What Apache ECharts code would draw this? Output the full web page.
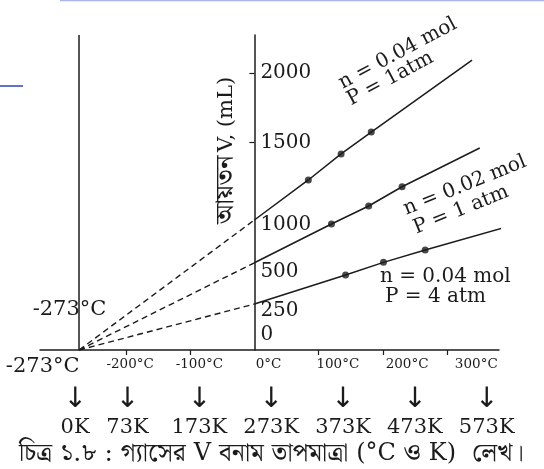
<!DOCTYPE html>
<html><head><meta charset="utf-8">
<script src="https://cdn.jsdelivr.net/npm/echarts@6/dist/echarts.min.js"></script>
<style>html,body{margin:0;padding:0;background:#fff}#c{width:544px;height:469px}</style>
</head><body><div id="c"></div>
<script>
// ---- data ----
const absZeroC = -273;
const celsiusTicks = [-200, -100, 100, 200, 300];
const celsiusLabels = [-273, -200, -100, 0, 100, 200, 300];
const kelvinLabels = [0, 73, 173, 273, 373, 473, 573];
const volumeLabels = [0, 250, 500, 1000, 1500, 2000];
const volumeTicks = [1500, 2000];
// n = 0.04 mol, P = 1 atm
const lineA_T = [0, 84, 135, 182, 339];
const lineA_V = [939, 1228, 1416, 1574, 2094];
// n = 0.02 mol, P = 1 atm
const lineB_T = [0, 120, 178, 230, 351];
const lineB_V = [630, 910, 1040, 1179, 1459];
// n = 0.04 mol, P = 4 atm
const lineC_T = [0, 142, 201, 266, 385];
const lineC_V = [332, 542, 633, 722, 879];
const measuredIdx = [1, 2, 3];
const lineNames = ['n = 0.04 mol, P = 1 atm', 'n = 0.02 mol, P = 1 atm', 'n = 0.04 mol, P = 4 atm'];

// ---- style ----
const INK = '#1b1b1b';
const SERIF = "'DejaVu Serif', 'Noto Serif Bengali', 'Noto Sans Bengali', 'Lohit Bengali', serif";
const yLabelNudge = {0: -15, 250: -5, 500: -9, 1000: 13};

const lines = [[lineA_T, lineA_V], [lineB_T, lineB_V], [lineC_T, lineC_V]];
const series = [];
lines.forEach(([T, V], i) => {
  const dashed = {
    type: 'line', name: lineNames[i], xAxisIndex: 0, yAxisIndex: 0,
    data: [[absZeroC, 0], [T[0], V[0]]], symbol: 'none', silent: true,
    lineStyle: {type: [6, 4], width: 1.4, color: INK}, z: 2
  };
  if (i === 0) {
    dashed.markLine = {
      silent: true, symbol: ['none', 'none'], label: {show: false},
      lineStyle: {type: 'solid', color: INK, width: 1.5},
      data: [{xAxis: absZeroC}]
    };
  }
  series.push(dashed);
  series.push({
    type: 'line', name: lineNames[i], xAxisIndex: 0, yAxisIndex: 0,
    data: T.map((t, j) => [t, V[j]]), symbol: 'none', showSymbol: false, clip: false,
    lineStyle: {width: 1.5, color: INK}, z: 3
  });
  series.push({
    type: 'scatter', name: lineNames[i], xAxisIndex: 0, yAxisIndex: 0,
    data: measuredIdx.map(j => [T[j], V[j]]), symbolSize: 7, clip: false,
    itemStyle: {color: INK}, z: 4
  });
});

const yRich = {};
volumeLabels.forEach(v => {
  const n = yLabelNudge[v] || 0;
  yRich['y' + v] = {
    fontSize: 20, fontFamily: SERIF, color: INK,
    padding: n >= 0 ? [2 * n, 0, 0, 0] : [0, 0, -2 * n, 0]
  };
});

const option = {
  backgroundColor: '#ffffff',
  animation: false,
  grid: {left: 40, right: 45, top: 35, bottom: 119},
  xAxis: [
    {
      type: 'value', min: -334, max: 381, position: 'bottom',
      axisLine: {show: true, onZero: false, lineStyle: {color: INK, width: 1.5}},
      axisTick: {show: true, customValues: celsiusTicks, length: 5, lineStyle: {color: INK, width: 1.2}},
      axisLabel: {show: false}, splitLine: {show: false}
    },
    {
      type: 'value', min: -330.2, max: 332.8, position: 'bottom',
      axisLine: {show: false, onZero: false}, axisTick: {show: false}, splitLine: {show: false},
      axisLabel: {
        customValues: celsiusLabels, margin: 6, hideOverlap: false,
        showMinLabel: true, showMaxLabel: true, alignMinLabel: 'right',
        formatter: v => (v === absZeroC ? '{big|' : '{sm|') + v + '°C}',
        rich: {
          big: {fontSize: 21, lineHeight: 22, fontFamily: SERIF, color: INK},
          sm: {fontSize: 13.5, lineHeight: 16, fontFamily: SERIF, color: INK}
        }
      }
    },
    {
      type: 'value', min: -48.9, max: 590.1, position: 'bottom',
      axisLine: {show: false, onZero: false}, axisTick: {show: false}, splitLine: {show: false},
      axisLabel: {
        customValues: kelvinLabels, margin: 36, hideOverlap: false,
        showMinLabel: true, showMaxLabel: true,
        formatter: v => '{a|↓}\n{k|' + v + 'K}',
        rich: {
          a: {fontSize: 28, lineHeight: 28, fontFamily: "'DejaVu Sans'", color: INK},
          k: {fontSize: 21, lineHeight: 28, fontFamily: SERIF, color: INK}
        }
      }
    }
  ],
  yAxis: {
    type: 'value', min: 0, max: 2275, position: 'left', offset: -214.4,
    axisLine: {show: true, onZero: false, lineStyle: {color: INK, width: 1.5}},
    axisTick: {show: true, customValues: volumeTicks, length: 5, lineStyle: {color: INK, width: 1.2}},
    axisLabel: {
      inside: true, margin: 6, customValues: volumeLabels, hideOverlap: false,
      showMinLabel: true, showMaxLabel: true,
      formatter: v => '{y' + v + '|' + v + '}', rich: yRich
    },
    splitLine: {show: false}
  },
  series: series,
  graphic: [
    {type: 'line', shape: {x1: 0, y1: 86, x2: 23, y2: 86}, style: {stroke: '#5f72d2', lineWidth: 2}},
    {type: 'line', shape: {x1: 60, y1: 0.6, x2: 544, y2: 0.6}, style: {stroke: '#aab4e6', lineWidth: 1.5}},
    {type: 'text', x: 340, y: 84.3, rotation: 0.4887, style: {text: 'n = 0.04 mol', fontSize: 20, fontFamily: SERIF, fill: INK, align: 'left', verticalAlign: 'middle'}},
    {type: 'text', x: 348.6, y: 101, rotation: 0.4887, style: {text: 'P = 1atm', fontSize: 20, fontFamily: SERIF, fill: INK, align: 'left', verticalAlign: 'middle'}},
    {type: 'text', x: 404.3, y: 210, rotation: 0.384, style: {text: 'n = 0.02 mol', fontSize: 20, fontFamily: SERIF, fill: INK, align: 'left', verticalAlign: 'middle'}},
    {type: 'text', x: 414.3, y: 229, rotation: 0.384, style: {text: 'P = 1 atm', fontSize: 20, fontFamily: SERIF, fill: INK, align: 'left', verticalAlign: 'middle'}},
    {type: 'text', x: 380, y: 277, style: {text: 'n = 0.04 mol', fontSize: 20, fontFamily: SERIF, fill: INK, align: 'left', verticalAlign: 'middle'}},
    {type: 'text', x: 385, y: 296.5, style: {text: 'P = 4 atm', fontSize: 20, fontFamily: SERIF, fill: INK, align: 'left', verticalAlign: 'middle'}},
    {type: 'text', x: 69.5, y: 309.5, style: {text: '-273°C', fontSize: 21, fontFamily: SERIF, fill: INK, align: 'center', verticalAlign: 'middle'}},
    {type: 'text', x: 226.5, y: 150.5, rotation: Math.PI / 2, style: {
      text: '{b|আয়তন} {l|V, (mL)}', fill: INK, align: 'center', verticalAlign: 'middle',
      rich: {b: {fontSize: 26, fontFamily: SERIF, fill: INK}, l: {fontSize: 21, fontFamily: SERIF, fill: INK}}
    }},
    {type: 'text', x: 271.5, y: 454, style: {
      text: '{b|চিত্র ১.৮ : গ্যাসের }{l|V}{b| বনাম তাপমাত্রা }{l|(°C}{b| ও }{l|K)}{b|  লেখ।}',
      fill: INK, align: 'center', verticalAlign: 'middle',
      rich: {b: {fontSize: 25, fontFamily: SERIF, fill: INK}, l: {fontSize: 24, fontFamily: SERIF, fill: INK}}
    }}
  ]
};
const chart = echarts.init(document.getElementById('c'), null, {renderer: 'canvas'});
chart.setOption(option);
</script>
</body></html>
